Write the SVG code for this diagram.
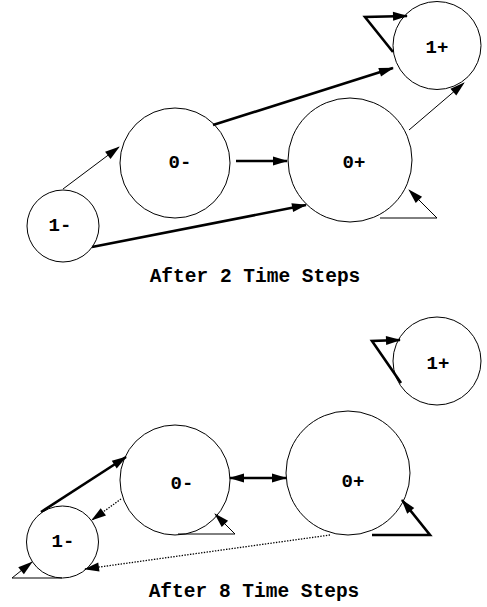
<svg xmlns="http://www.w3.org/2000/svg" width="487" height="607" viewBox="0 0 487 607">
  <style>
    .state { fill: #fff; stroke: #000; stroke-width: 1; }
    .lbl { font-family: "Liberation Mono", "DejaVu Sans Mono", monospace; font-weight: bold; font-size: 19px; text-anchor: middle; fill: #000; }
    .title { font-family: "Liberation Mono", "DejaVu Sans Mono", monospace; font-weight: bold; font-size: 19.5px; text-anchor: middle; fill: #000; }
    .thin { fill: none; stroke: #000; stroke-width: 1; marker-end: url(#head); }
    .thick { fill: none; stroke: #000; stroke-width: 2.6; marker-end: url(#head); }
    .dot { fill: none; stroke: #000; stroke-width: 1.3; stroke-dasharray: 1.4 1.4; marker-end: url(#head); }
  </style>
  <defs>
    <marker id="head" markerUnits="userSpaceOnUse" markerWidth="16" markerHeight="10" refX="14" refY="4.5" orient="auto-start-reverse" overflow="visible">
      <path d="M0,0 L15,4.5 L0,9 Z" fill="#000"/>
    </marker>
  </defs>

  <rect width="487" height="607" fill="#fff"/>

  <!-- upper panel: after 2 time steps -->
  <g id="top-1plus"><circle class="state" cx="437" cy="45.5" r="44"/><text class="lbl" x="437" y="53">1+</text></g>
  <g id="top-0minus"><circle class="state" cx="175" cy="163" r="55"/><text class="lbl" x="180" y="168">0-</text></g>
  <g id="top-0plus"><circle class="state" cx="350" cy="160" r="62"/><text class="lbl" x="354" y="168">0+</text></g>
  <g id="top-1minus"><circle class="state" cx="63" cy="226" r="36"/><text class="lbl" x="60" y="231">1-</text></g>

  <!-- lower panel: after 8 time steps -->
  <g id="bot-1plus"><circle class="state" cx="437" cy="361" r="44"/><text class="lbl" x="438" y="369">1+</text></g>
  <g id="bot-0minus"><circle class="state" cx="175" cy="480" r="55"/><text class="lbl" x="182" y="489">0-</text></g>
  <g id="bot-0plus"><circle class="state" cx="348" cy="473" r="62"/><text class="lbl" x="353" y="487">0+</text></g>
  <g id="bot-1minus"><circle class="state" cx="62.5" cy="542" r="36"/><text class="lbl" x="63" y="547">1-</text></g>

  <g id="connectors">
    <!-- upper panel -->
    <path class="thin" d="M63,189 L119,147"/>
    <path class="thick" d="M213,125 L393,68"/>
    <path class="thick" d="M236,161 L287,161"/>
    <path class="thick" d="M92,247 L306,205"/>
    <path class="thin" d="M409,130 L464,83"/>
    <path class="thick" d="M393,52 L365,17 L407,16"/>
    <path class="thin" d="M380,218 L437,218 L409,190"/>

    <!-- lower panel -->
    <path class="thick" d="M41,512 L126,457"/>
    <path class="thick" d="M230,478 L286,478" style="marker-start:url(#head)"/>
    <path class="dot" d="M121,499 L92,520"/>
    <path class="dot" d="M330,535 L85,569"/>
    <path class="thin" d="M178,534 L235,534 L215,514"/>
    <path class="thick" d="M372,535 L430,535 L402,500"/>
    <path class="thick" d="M401,383 L372,341 L400,340"/>
    <path class="thin" d="M62,578 L12,578 L32,562"/>
  </g>

  <text class="title" x="255" y="282">After 2 Time Steps</text>
  <text class="title" x="254" y="597">After 8 Time Steps</text>
</svg>
